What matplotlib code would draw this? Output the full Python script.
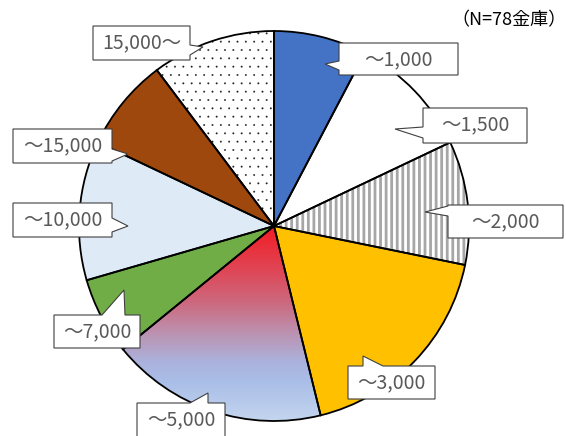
import numpy as np
import matplotlib
matplotlib.use("Agg")
import matplotlib.pyplot as plt
from matplotlib.patches import Wedge, Polygon
from matplotlib.colors import LinearSegmentedColormap

plt.rcParams['font.family'] = ['Noto Sans CJK JP', 'DejaVu Sans']

# 預金量別の金庫数
labels = ['～1,000', '～1,500', '～2,000', '～3,000', '～5,000',
          '～7,000', '～10,000', '～15,000', '15,000～']
counts = [6, 8, 8, 14, 14, 5, 9, 6, 8]
note = '（N=78金庫）'

colors = ['#4472C4', 'white', 'white', '#FFC000', 'white',
          '#70AD47', '#DEEBF7', '#9E480E', 'white']
hatches = [None, None, '|||', None, None, None, None, None, '..']

W, H = 566, 436
cx, cy, R = 274, 226, 195   # 画面座標(上から)


def flip(y):
    return H - y


fig = plt.figure(figsize=(W / 100, H / 100), dpi=100)
ax = fig.add_axes([0, 0, 1, 1])

wedges, _ = ax.pie(counts, colors=colors, startangle=90, counterclock=False,
                   center=(cx, flip(cy)), radius=R,
                   wedgeprops=dict(linewidth=0))

# 縦縞・ドットの網掛け
for w, h in zip(wedges, hatches):
    if h is None:
        continue
    lw = 2.0 if h == '|||' else 0.15
    with plt.rc_context({'hatch.linewidth': lw}):
        hp = Wedge(w.center, w.r, w.theta1, w.theta2, facecolor='white',
                   edgecolor='#A6A6A6' if h == '|||' else '#202020',
                   linewidth=0, hatch=h, zorder=2)
    ax.add_patch(hp)

# ～5,000 はグラデーション
grad = LinearSegmentedColormap.from_list('g', [
    (0.0, '#F21C24'), (0.2, '#E2404F'), (0.4, '#CC6A80'), (0.55, '#BC92B0'),
    (0.7, '#ABB2DD'), (0.8, '#A9BEE7'), (1.0, '#C4D5EF')])
img = np.linspace(0, 1, 256).reshape(-1, 1)
im = ax.imshow(img, cmap=grad, origin='upper', aspect='auto', zorder=2,
               extent=[cx - R, cx + R, flip(cy + R), flip(cy)])
im.set_clip_path(wedges[4])

# 扇形の輪郭
for w in wedges:
    ax.add_patch(Wedge(w.center, w.r, w.theta1, w.theta2, fill=False,
                       edgecolor='black', linewidth=1.3, zorder=3))

# 吹き出し (枠, 吹き出し口の辺, 付け根, 先端)
callouts = [
    ((339, 43, 458, 75), 'left', (61, 70), (325, 64)),
    ((423, 108, 527, 143), 'left', (127, 138), (395, 129)),
    ((448, 205, 563, 238), 'left', (206, 216), (425, 212)),
    ((348, 366, 435, 399), 'top', (363, 383), (363, 356)),
    ((137, 403, 225, 445), 'top', (190, 208), (208, 393)),
    ((54, 315, 140, 348), 'top', (102, 125), (124, 290)),
    ((13, 203, 112, 237), 'right', (218, 232), (128, 226)),
    ((13, 129, 112, 163), 'right', (149, 161), (128, 154)),
    ((93, 26, 190, 60), 'right', (45, 55), (203, 47)),
]

for text, (box, side, base, tip) in zip(labels, callouts):
    x0, y0, x1, y1 = box
    b0, b1 = base
    pts = [(x0, y0)]
    if side == 'top':
        pts += [(b0, y0), tip, (b1, y0)]
    pts.append((x1, y0))
    if side == 'right':
        pts += [(x1, b0), tip, (x1, b1)]
    pts += [(x1, y1), (x0, y1)]
    if side == 'left':
        pts += [(x0, b1), tip, (x0, b0)]
    pts = [(x, flip(y)) for x, y in pts]
    ax.add_patch(Polygon(pts, closed=True, facecolor='white',
                         edgecolor='#404040', linewidth=0.8, zorder=5))
    ax.text((x0 + x1) / 2, flip(y0 + 17), text, ha='center', va='center',
            color='#595959', fontsize=14, zorder=6)

ax.text(567, flip(20), note, ha='right', va='center', fontsize=13, color='black')

ax.set_xlim(0, W)
ax.set_ylim(0, H)
ax.set_aspect('auto')
ax.set_axis_off()

fig.savefig('out.png', dpi=100)
